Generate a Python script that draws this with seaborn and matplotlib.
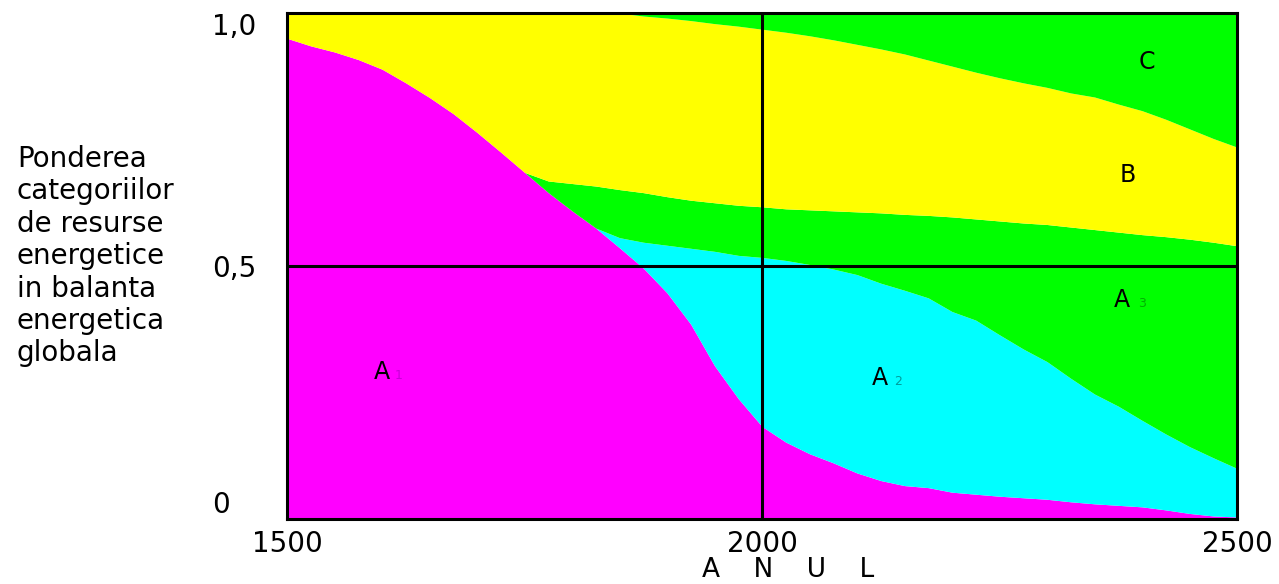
import matplotlib
matplotlib.use("Agg")
import matplotlib.pyplot as plt
import seaborn as sns

sns.set_style("white")
plt.rcParams['font.family'] = ['DejaVu Sans']
plt.rcParams['text.color'] = 'black'
plt.rcParams['xtick.color'] = 'black'
plt.rcParams['ytick.color'] = 'black'

# years on the x axis
years = list(range(1500, 2501, 25))

# cumulative upper edge of each band
top_a1 = [0.950, 0.935, 0.923, 0.908, 0.889, 0.862, 0.833, 0.801, 0.764, 0.725,
          0.685, 0.645, 0.609, 0.575, 0.536, 0.496, 0.447, 0.385, 0.303, 0.238,
          0.183, 0.152, 0.129, 0.111, 0.091, 0.076, 0.066, 0.062, 0.053, 0.049,
          0.045, 0.042, 0.039, 0.034, 0.030, 0.027, 0.024, 0.018, 0.011, 0.006,
          0.004]
top_a2 = [0.950, 0.935, 0.923, 0.908, 0.889, 0.862, 0.833, 0.801, 0.764, 0.725,
          0.685, 0.645, 0.609, 0.575, 0.556, 0.547, 0.541, 0.535, 0.529, 0.521,
          0.517, 0.511, 0.503, 0.494, 0.483, 0.466, 0.452, 0.437, 0.410, 0.393,
          0.364, 0.336, 0.311, 0.278, 0.247, 0.223, 0.195, 0.168, 0.143, 0.121,
          0.100]
top_a3 = [0.950, 0.935, 0.923, 0.908, 0.889, 0.862, 0.833, 0.801, 0.764, 0.725,
          0.685, 0.668, 0.663, 0.658, 0.651, 0.645, 0.637, 0.630, 0.625, 0.620,
          0.617, 0.613, 0.611, 0.609, 0.607, 0.605, 0.602, 0.600, 0.597, 0.593,
          0.589, 0.585, 0.582, 0.577, 0.572, 0.567, 0.562, 0.558, 0.553, 0.547,
          0.540]
top_b = [1.0, 1.0, 1.0, 1.0, 1.0, 1.0, 1.0, 1.0, 1.0, 1.0,
         1.0, 1.0, 1.0, 1.0, 1.0, 0.994, 0.990, 0.985, 0.979, 0.974,
         0.968, 0.962, 0.955, 0.947, 0.938, 0.929, 0.919, 0.907, 0.895, 0.883,
         0.872, 0.862, 0.853, 0.842, 0.834, 0.820, 0.807, 0.790, 0.771, 0.752,
         0.735]
top_c = [1.0] * len(years)

fig = plt.figure(figsize=(12.79, 5.84), dpi=100)
ax = fig.add_axes([287 / 1279, 65 / 584, 950 / 1279, 506 / 584])

# stacked bands
ax.fill_between(years, 0, top_a1, color='#FF00FF', lw=0)
ax.fill_between(years, top_a1, top_a2, color='#00FFFF', lw=0)
ax.fill_between(years, top_a2, top_a3, color='#00FF00', lw=0)
ax.fill_between(years, top_a3, top_b, color='#FFFF00', lw=0)
ax.fill_between(years, top_b, top_c, color='#00FF00', lw=0)

# cross lines
ax.axvline(2000, color='black', lw=2.2)
ax.axhline(0.5, color='black', lw=2.2)

ax.set_xlim(1500, 2500)
ax.set_ylim(0, 1)
for s in ax.spines.values():
    s.set_color('black')
    s.set_linewidth(2.2)

ax.set_xticks([1500, 2000, 2500], ['1500', '2000', '2500'], fontsize=20)
ax.set_yticks([0, 0.5, 1], ['0', '0,5', '1,0'], fontsize=20)
ax.tick_params(axis='x', length=0, pad=8)
ax.tick_params(axis='y', length=0, pad=54)
for lab in ax.get_yticklabels():
    lab.set_ha('left')
ylabs = ax.get_yticklabels()
ylabs[0].set_va('bottom')
ylabs[2].set_va('top')

# region labels
ax.text(2405, 0.903, 'C', fontsize=17, ha='center', va='center')
ax.text(2385, 0.680, 'B', fontsize=17, ha='center', va='center')
ax.text(2379, 0.433, 'A', fontsize=17, ha='center', va='center')
ax.text(2400, 0.425, '3', fontsize=9, ha='center', va='center', color='#00B000')
ax.text(2124, 0.279, 'A', fontsize=17, ha='center', va='center')
ax.text(2143, 0.271, '2', fontsize=9, ha='center', va='center', color='#009C9C')
ax.text(1600, 0.291, 'A', fontsize=17, ha='center', va='center')
ax.text(1618, 0.283, '1', fontsize=9, ha='center', va='center', color='#C800D8')

# axis titles
fig.text(788 / 1279, 1 - 570 / 584, 'A    N    U    L', fontsize=19, ha='center', va='center')
fig.text(17 / 1279, 1 - 145 / 584,
         'Ponderea\ncategoriilor\nde resurse\nenergetice\nin balanta\nenergetica\nglobala',
         fontsize=20, ha='left', va='top', linespacing=1.2)

fig.savefig('out.png', dpi=100)
